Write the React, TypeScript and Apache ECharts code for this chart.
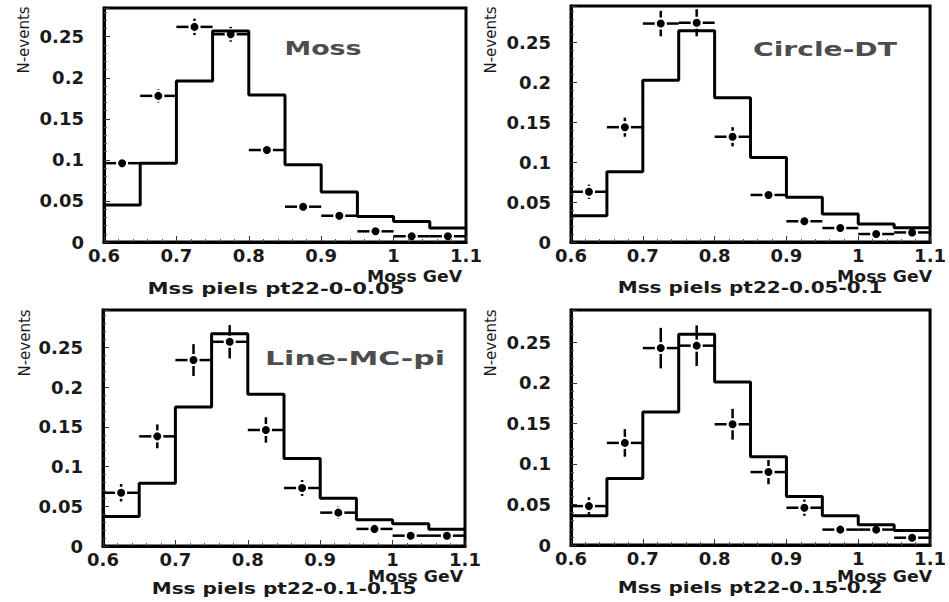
import React, { useEffect, useRef } from "react";
import * as echarts from "echarts";

// ---------- data ----------
const binLo = [0.6, 0.65, 0.7, 0.75, 0.8, 0.85, 0.9, 0.95, 1.0, 1.05];
const binHi = [0.65, 0.7, 0.75, 0.8, 0.85, 0.9, 0.95, 1.0, 1.05, 1.1];
const binCenters = [0.625, 0.675, 0.725, 0.775, 0.825, 0.875, 0.925, 0.975, 1.025, 1.075];

const hist1 = [0.045, 0.096, 0.196, 0.257, 0.179, 0.094, 0.061, 0.031, 0.025, 0.017];
const pts1 = [0.096, 0.178, 0.262, 0.253, 0.112, 0.043, 0.032, 0.013, 0.007, 0.007];
const err1 = [0.006, 0.008, 0.01, 0.009, 0.007, 0.003, 0.003, 0.002, 0.002, 0.002];

const hist2 = [0.033, 0.088, 0.203, 0.265, 0.181, 0.106, 0.056, 0.035, 0.0225, 0.018];
const pts2 = [0.063, 0.144, 0.274, 0.275, 0.132, 0.059, 0.026, 0.0175, 0.01, 0.012];
const err2 = [0.009, 0.012, 0.016, 0.017, 0.012, 0.006, 0.003, 0.002, 0.002, 0.002];

const hist3 = [0.037, 0.079, 0.175, 0.267, 0.191, 0.11, 0.06, 0.033, 0.028, 0.021];
const pts3 = [0.067, 0.138, 0.234, 0.257, 0.146, 0.073, 0.042, 0.0215, 0.013, 0.013];
const err3 = [0.011, 0.015, 0.02, 0.021, 0.016, 0.01, 0.008, 0.003, 0.002, 0.002];

const hist4 = [0.036, 0.082, 0.164, 0.26, 0.201, 0.109, 0.06, 0.036, 0.025, 0.018];
const pts4 = [0.048, 0.126, 0.243, 0.246, 0.149, 0.09, 0.046, 0.019, 0.019, 0.009];
const err4 = [0.011, 0.017, 0.025, 0.025, 0.019, 0.015, 0.01, 0.007, 0.006, 0.003];

const panelLabels = ["Moss", "Circle-DT", "Line-MC-pi", ""];
const subtitles = [
  "Mss piels pt22-0-0.05",
  "Mss piels pt22-0.05-0.1",
  "Mss piels pt22-0.1-0.15",
  "Mss piels pt22-0.15-0.2",
];
const xName = "Moss GeV";
const yName = "N-events";
const yMaxes = [0.285, 0.296, 0.297, 0.29];

// ---------- layout ----------
const grids = [
  { left: 104, top: 8, width: 362, height: 234 },
  { left: 571, top: 6, width: 364, height: 236 },
  { left: 103, top: 310, width: 362, height: 236 },
  { left: 571, top: 310, width: 364, height: 235 },
];
const labelPos = [
  { cx: 323, cy: 48, w: 77, size: 20 },
  { cx: 825, cy: 50, w: 144, size: 19 },
  { cx: 355, cy: 359, w: 180, size: 19 },
  null,
];
const subPos = [
  { cx: 276, cy: 289, w: 257 },
  { cx: 750, cy: 288, w: 265 },
  { cx: 284, cy: 589, w: 265 },
  { cx: 750, cy: 588, w: 265 },
];
const xNamePos = [
  { rx: 462, cy: 277 },
  { rx: 932, cy: 277 },
  { rx: 463, cy: 577 },
  { rx: 932, cy: 577 },
];
const yNamePos = [
  { cx: 24, cy: 40 },
  { cx: 491, cy: 40 },
  { cx: 25, cy: 343 },
  { cx: 491, cy: 343 },
];

const FONT = "'DejaVu Sans', sans-serif";

function measure(text: string, font: string): number {
  const c = document.createElement("canvas").getContext("2d");
  if (!c) return text.length * 10;
  c.font = font;
  return c.measureText(text).width;
}

function stretchedText(text: string, cx: number, cy: number, w: number, size: number, color: string, align: string) {
  const mw = measure(text, `bold ${size}px 'DejaVu Sans'`);
  const sx = mw > 0 ? w / mw : 1;
  return {
    type: "text",
    x: cx,
    y: cy,
    scaleX: sx,
    scaleY: 1,
    silent: true,
    style: {
      text,
      fontFamily: FONT,
      fontWeight: "bold",
      fontSize: size,
      fill: color,
      align,
      verticalAlign: "middle",
    },
  };
}

export default function App() {
  const ref = useRef<HTMLDivElement>(null);
  useEffect(() => {
    if (!ref.current) return;
    const chart = echarts.init(ref.current, null, { renderer: "svg" });
    const hists = [hist1, hist2, hist3, hist4];
    const pts = [pts1, pts2, pts3, pts4];
    const errs = [err1, err2, err3, err4];

    const xAxes: any[] = [];
    const yAxes: any[] = [];
    const series: any[] = [];
    const graphic: any[] = [];

    grids.forEach((g, i) => {
      xAxes.push({
        type: "value",
        gridIndex: i,
        min: 0.6,
        max: 1.1,
        interval: 0.1,
        axisLine: { show: true, onZero: false, lineStyle: { color: "#000", width: 3 } },
        axisTick: { show: true, inside: true, length: 6, lineStyle: { color: "#333", width: 1 } },
        minorTick: { show: true, splitNumber: 5, length: 3, lineStyle: { color: "#555", width: 1 } },
        splitLine: { show: false },
        axisLabel: {
          color: "#1a1a1a",
          fontFamily: FONT,
          fontWeight: "bold",
          fontSize: 18,
          margin: 4,
        },
      });
      yAxes.push({
        type: "value",
        gridIndex: i,
        min: 0,
        max: yMaxes[i],
        interval: 0.05,
        axisLine: { show: true, lineStyle: { color: "#000", width: 3 } },
        axisTick: { show: true, inside: true, length: 6, lineStyle: { color: "#333", width: 1 } },
        minorTick: { show: true, splitNumber: 5, length: 3, lineStyle: { color: "#555", width: 1 } },
        splitLine: { show: false },
        axisLabel: {
          color: "#1a1a1a",
          fontFamily: FONT,
          fontWeight: "bold",
          fontSize: 18,
          margin: 20,
          showMaxLabel: false,
        },
      });

      const h = hists[i];
      const stepData = binLo.map((x, k) => [x, h[k]]);
      stepData.push([binHi[binHi.length - 1], h[h.length - 1]]);
      series.push({
        type: "line",
        xAxisIndex: i,
        yAxisIndex: i,
        step: "end",
        showSymbol: false,
        symbol: "none",
        lineStyle: { color: "#000", width: 3 },
        data: stepData,
        z: 3,
      });

      const p = pts[i];
      const e = errs[i];
      series.push({
        type: "custom",
        xAxisIndex: i,
        yAxisIndex: i,
        z: 4,
        clip: false,
        data: binCenters.map((x, k) => [x, p[k], e[k], binLo[k], binHi[k]]),
        renderItem: (params: any, api: any) => {
          const x = api.value(0);
          const y = api.value(1);
          const er = api.value(2);
          const lo = api.value(3);
          const hi = api.value(4);
          const c = api.coord([x, y]);
          const l = api.coord([lo, y]);
          const r = api.coord([hi, y]);
          const t = api.coord([x, y + er]);
          const b = api.coord([x, y - er]);
          const gap = 6;
          const st = { stroke: "#000", lineWidth: 2.5 };
          const children: any[] = [
            { type: "line", shape: { x1: l[0], y1: c[1], x2: c[0] - gap, y2: c[1] }, style: st },
            { type: "line", shape: { x1: c[0] + gap, y1: c[1], x2: r[0], y2: c[1] }, style: st },
          ];
          if (c[1] - t[1] > gap) {
            children.push({ type: "line", shape: { x1: c[0], y1: t[1], x2: c[0], y2: c[1] - gap }, style: st });
            children.push({ type: "line", shape: { x1: c[0], y1: c[1] + gap, x2: c[0], y2: b[1] }, style: st });
          }
          children.push({ type: "circle", shape: { cx: c[0], cy: c[1], r: 4 }, style: { fill: "#000" } });
          return { type: "group", children };
        },
      });

      // texts
      const lp = labelPos[i];
      if (lp && panelLabels[i]) {
        graphic.push(stretchedText(panelLabels[i], lp.cx, lp.cy, lp.w, lp.size, "#4d4d4d", "center"));
      }
      const sp = subPos[i];
      graphic.push(stretchedText(subtitles[i], sp.cx, sp.cy, sp.w, 15, "#1a1a1a", "center"));
      const xp = xNamePos[i];
      graphic.push(stretchedText(xName, xp.rx, xp.cy, 95, 15, "#1a1a1a", "right"));
      const yp = yNamePos[i];
      graphic.push({
        type: "text",
        x: yp.cx,
        y: yp.cy,
        rotation: Math.PI / 2,
        silent: true,
        style: {
          text: yName,
          fontFamily: FONT,
          fontSize: 15,
          fill: "#1a1a1a",
          align: "center",
          verticalAlign: "middle",
        },
      });
    });

    chart.setOption({
      animation: false,
      backgroundColor: "#ffffff",
      grid: grids.map((g) => ({
        ...g,
        show: true,
        borderColor: "#000",
        borderWidth: 3,
        backgroundColor: "transparent",
        containLabel: false,
      })),
      xAxis: xAxes,
      yAxis: yAxes,
      series,
      graphic,
    });
    return () => chart.dispose();
  }, []);
  return (
    <div
      ref={ref}
      style={{ position: "fixed", left: 0, top: 0, width: 949, height: 602, background: "#fff" }}
    />
  );
}
